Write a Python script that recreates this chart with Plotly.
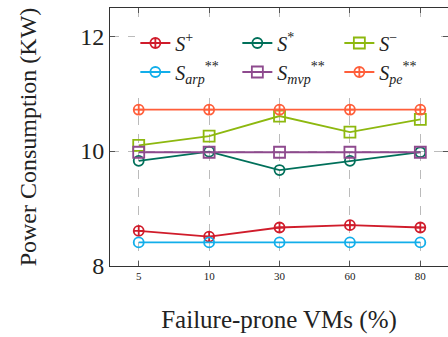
import plotly.graph_objects as go

# Percentage of failure-prone VMs (categorical x positions)
failure_pct = ["5", "10", "30", "60", "80"]

# Power consumption (KW) per strategy
s_plus = [8.61, 8.51, 8.67, 8.71, 8.67]
s_star = [9.83, 9.99, 9.67, 9.83, 9.98]
s_minus = [10.10, 10.26, 10.61, 10.33, 10.55]
s_arp = [8.41, 8.41, 8.41, 8.41, 8.41]
s_mvp = [9.98, 9.98, 9.98, 9.98, 9.98]
s_pe = [10.72, 10.72, 10.72, 10.72, 10.72]

y_ticks = [8, 10, 12]

series = [
    ("<i>S</i><sup>+</sup>", s_plus, "#D01C2B", "circle-cross-open", 10),
    ("<i>S</i><sup>*</sup>", s_star, "#00705A", "circle-open", 10),
    ("<i>S</i><sup>−</sup>", s_minus, "#8DB80F", "square-open", 11),
    ("<i>S</i><sub><i>arp</i></sub><sup>**</sup>", s_arp, "#12AEEA", "circle-open", 10),
    ("<i>S</i><sub><i>mvp</i></sub><sup>**</sup>", s_mvp, "#8E4A8E", "square-open", 11),
    ("<i>S</i><sub><i>pe</i></sub><sup>**</sup>", s_pe, "#FF5E3A", "circle-cross-open", 10),
]

FONT = "Liberation Serif"

fig = go.Figure()
for name, vals, color, symbol, size in series:
    fig.add_trace(go.Scatter(
        x=failure_pct, y=vals, name=name, mode="lines+markers",
        line=dict(color=color, width=1.8),
        marker=dict(symbol=symbol, size=size, color=color,
                    line=dict(color=color, width=1.8)),
    ))

fig.update_layout(
    width=448, height=337,
    margin=dict(l=110, r=0, t=8, b=71),
    paper_bgcolor="white", plot_bgcolor="white",
    font=dict(family=FONT, color="#222"),
    showlegend=True,
    legend=dict(
        orientation="h", x=0.075, y=0.94, xanchor="left", yanchor="top",
        bgcolor="white", borderwidth=0,
        font=dict(family=FONT, size=20, color="#222"),
        entrywidth=57, entrywidthmode="pixels",
        tracegroupgap=0, itemwidth=30,
    ),
)

fig.update_xaxes(
    type="category", categoryorder="array", categoryarray=failure_pct,
    range=[-0.408, 4.393],
    showline=True, linecolor="#333", linewidth=1, mirror="ticks",
    ticks="inside", ticklen=5, tickcolor="#555",
    tickfont=dict(family=FONT, size=11, color="#222"),
    showgrid=True, gridcolor="#bbbbbb", griddash="dash", gridwidth=1,
    zeroline=False,
    title=dict(text="Failure-prone VMs (%)", font=dict(family=FONT, size=25), standoff=29),
)
fig.update_yaxes(
    range=[8, 12.49], tickvals=y_ticks,
    showline=True, linecolor="#333", linewidth=1, mirror="ticks",
    ticks="inside", ticklen=5, tickcolor="#555",
    tickfont=dict(family=FONT, size=24, color="#222"),
    showgrid=True, gridcolor="#bbbbbb", griddash="dash", gridwidth=1,
    zeroline=False,
    title=dict(text="Power Consumption (KW)", font=dict(family=FONT, size=24), standoff=36),
)

fig.write_html("out.html")
